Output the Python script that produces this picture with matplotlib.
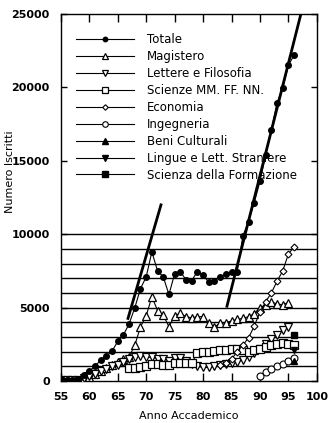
import matplotlib
matplotlib.use("Agg")
import matplotlib.pyplot as plt

plt.rcParams['font.family'] = ['DejaVu Sans']

# anni accademici e iscritti
years_tot = list(range(55, 97))
totale = [120, 70, 70, 120, 400, 700, 1000, 1450, 1700, 2050,
          2700, 3150, 3900, 5000, 6300, 7100, 8800, 7500, 7100, 5900,
          7300, 7450, 6900, 6850, 7450, 7200, 6750, 6850, 7100, 7300,
          7400, 7450, 9900, 10850, 12150, 13600, 15400, 17100, 18950, 19950,
          21500, 22200]

years_mag = list(range(55, 96))
magistero = [40, 50, 60, 80, 150, 300, 500, 700, 900, 1100,
             1300, 1500, 1650, 2450, 3700, 4450, 5750, 4800, 4500, 3700,
             4450, 4620, 4390, 4300, 4390, 4390, 3930, 3700, 3930, 3980,
             4100, 4200, 4280, 4390, 4600, 5000, 5200, 5400, 5250, 5200,
             5350]

years_let = list(range(55, 96))
lettere = [50, 60, 80, 100, 200, 350, 500, 700, 800, 1000,
           1100, 1300, 1500, 1650, 1700, 1650, 1610, 1540, 1540, 1400,
           1600, 1600, 1400, 1150, 1020, 930, 930, 1000, 1100, 1150,
           1200, 1300, 1450, 1650, 1900, 2200, 2500, 2850, 3150, 3500,
           3700]

years_sci = list(range(67, 97))
scienze = [870, 870, 980, 1020, 1150, 1150, 1100, 1100, 1200, 1200,
           1200, 1250, 1900, 1950, 2000, 2050, 2100, 2150, 2220, 2220,
           2110, 2000, 2110, 2220, 2300, 2460, 2520, 2570, 2520, 2460]

years_eco = list(range(83, 97))
economia = [1100, 1200, 1500, 2000, 2450, 2950, 3750, 4700, 5400, 6000,
            6800, 7500, 8650, 9150]

years_ing = list(range(90, 97))
ingegneria = [350, 600, 800, 1000, 1150, 1350, 1550]

years_beni = [96]
beni = [1380]
years_lin = [96]
lingue = [2100]
years_for = [96]
formazione = [3140]

# rette di tendenza
fit1_years = [66.8, 72.6]
fit1_vals = [4270, 12000]
fit2_years = [84.2, 97.2]
fit2_vals = [5100, 25000]

grid_levels = list(range(1000, 11000, 1000))

fig = plt.figure(figsize=(3.29, 4.23), dpi=100)
ax = fig.add_axes([0.185, 0.099, 0.778, 0.868])

for g in grid_levels:
    ax.axhline(g, color='black', lw=1.0, zorder=1)

ax.plot(fit1_years, fit1_vals, color='black', lw=2.0, zorder=2)
ax.plot(fit2_years, fit2_vals, color='black', lw=2.0, zorder=2)

lw = 0.8
ax.plot(years_tot, totale, color='black', lw=lw, marker='o', ms=4,
        mfc='black', mec='black', label='Totale', zorder=4)
ax.plot(years_mag, magistero, color='black', lw=lw, marker='^', ms=6,
        mfc='white', mec='black', mew=0.9, label='Magistero', zorder=3)
ax.plot(years_let, lettere, color='black', lw=lw, marker='v', ms=6,
        mfc='white', mec='black', mew=0.9, label='Lettere e Filosofia', zorder=3)
ax.plot(years_sci, scienze, color='black', lw=lw, marker='s', ms=6,
        mfc='white', mec='black', mew=0.9, label='Scienze MM. FF. NN.', zorder=3)
ax.plot(years_eco, economia, color='black', lw=lw, marker='D', ms=3.5,
        mfc='white', mec='black', mew=0.8, label='Economia', zorder=3)
ax.plot(years_ing, ingegneria, color='black', lw=lw, marker='o', ms=5,
        mfc='white', mec='black', mew=0.8, label='Ingegneria', zorder=3)
ax.plot(years_beni, beni, color='black', lw=lw, marker='^', ms=5,
        mfc='black', mec='black', label='Beni Culturali', zorder=4)
ax.plot(years_lin, lingue, color='black', lw=lw, marker='v', ms=5,
        mfc='black', mec='black', label='Lingue e Lett. Straniere', zorder=4)
ax.plot(years_for, formazione, color='black', lw=lw, marker='s', ms=5,
        mfc='black', mec='black', label='Scienza della Formazione', zorder=4)

ax.set_xlim(55, 100)
ax.set_ylim(0, 25000)
ax.set_xticks(range(55, 101, 5))
ax.set_yticks(range(0, 25001, 5000))
ax.tick_params(axis='x', direction='in', length=6, width=1, top=True,
               pad=8, labelsize=8)
ax.tick_params(axis='y', direction='in', length=4, width=1, right=True,
               pad=8, labelsize=8)
for lab in ax.get_xticklabels() + ax.get_yticklabels():
    lab.set_fontweight('bold')
for s in ax.spines.values():
    s.set_linewidth(1.0)

ax.set_xlabel('Anno Accademico', fontsize=8, labelpad=6)
ax.set_ylabel('Numero Iscritti', fontsize=8)
ax.yaxis.set_label_coords(-0.18, 0.57)

ax.legend(loc='upper left', bbox_to_anchor=(0.04, 0.96), frameon=False,
          fontsize=8.5, handlelength=4.9, handletextpad=1.15,
          labelspacing=0.33, borderaxespad=0.0, markerscale=0.8)

fig.savefig('out.png', dpi=100)
